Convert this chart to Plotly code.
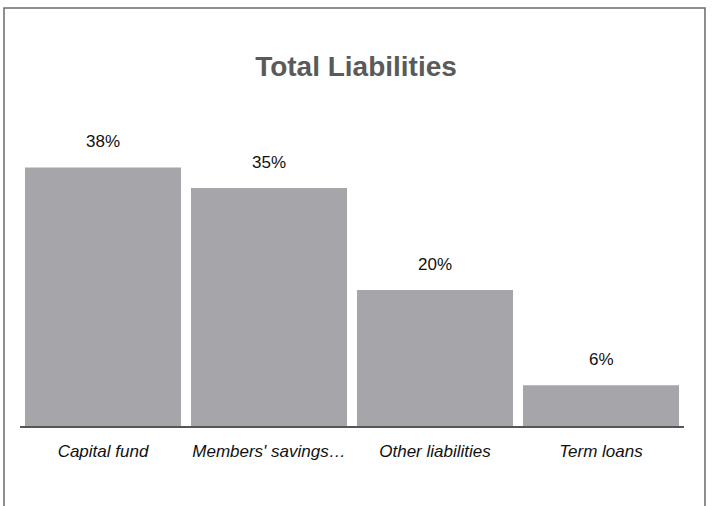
import plotly.graph_objects as go

categories = ["Capital fund", "Members' savings…", "Other liabilities", "Term loans"]
shares = [38, 35, 20, 6]
share_labels = ["38%", "35%", "20%", "6%"]

FONT = "Liberation Sans, Arial, Helvetica, sans-serif"
BAR_COLOR = "#a6a5aa"

fig = go.Figure(
    go.Bar(
        x=categories,
        y=shares,
        marker=dict(color=BAR_COLOR, line=dict(width=0)),
        hoverinfo="skip",
    )
)

# value labels above each bar
for cat, val, lab in zip(categories, shares, share_labels):
    fig.add_annotation(
        x=cat, y=val, text=lab, showarrow=False,
        xref="x", yref="y", yanchor="middle", yshift=26,
        font=dict(family=FONT, size=17, color="#111111"),
    )

# outer frame around the chart
fig.add_shape(
    type="rect", xref="paper", yref="paper",
    x0=-0.0241, x1=1.0316, y0=-0.40, y1=1.366,
    line=dict(color="#6a6a6a", width=1.5), fillcolor="rgba(0,0,0,0)",
    layer="below",
)

fig.update_layout(
    width=712, height=506,
    margin=dict(l=20, r=28, t=120, b=80),
    paper_bgcolor="white", plot_bgcolor="white",
    bargap=0.06,
    showlegend=False,
    title=dict(
        text="<b>Total Liabilities</b>",
        x=0.5, xref="container", xanchor="center",
        y=1 - 66 / 506, yref="container", yanchor="middle",
        font=dict(family=FONT, size=28, color="#5a5a5a"),
    ),
    xaxis=dict(
        showgrid=False, zeroline=False,
        showline=True, linecolor="#555555", linewidth=1.5,
        ticks="outside", ticklen=9, tickcolor="rgba(0,0,0,0)",
        tickfont=dict(family=FONT, size=17, color="#111111", style="italic"),
    ),
    yaxis=dict(
        range=[0, 45], visible=False, showgrid=False, zeroline=False,
    ),
)

fig.write_html("out.html")
